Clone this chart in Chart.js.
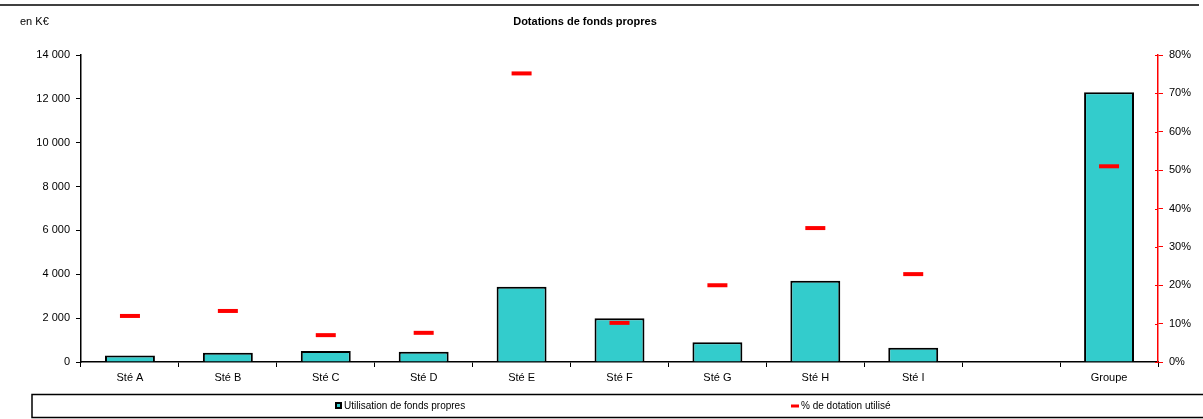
<!DOCTYPE html>
<html>
<head>
<meta charset="utf-8">
<title>Dotations de fonds propres</title>
<script src="https://cdn.jsdelivr.net/npm/chart.js@4/dist/chart.umd.min.js"></script>
<style>
  html, body { margin: 0; padding: 0; background: #fff; }
  #wrap { width: 1203px; height: 419px; position: relative; }
</style>
</head>
<body>
<div id="wrap"><canvas id="chart" width="1203" height="419"></canvas></div>
<script>
// ---- données ----
const societes = ["Sté A", "Sté B", "Sté C", "Sté D", "Sté E", "Sté F", "Sté G", "Sté H", "Sté I", "", "Groupe"];
const utilisation = [300, 420, 500, 470, 3430, 2000, 900, 3700, 650, null, 12300];   // en K€
const pctDotation = [12, 13.3, 7, 7.6, 75.2, 10.2, 20, 34.9, 22.9, null, 51];        // en %

const FONT = "'Liberation Sans', Arial, sans-serif";
const fmtK = v => String(v).replace(/\B(?=(\d{3})+(?!\d))/g, " ");

// titre, unité, trait du haut et légende encadrée
const decor = {
  id: "decor",
  afterDraw(chart) {
    const ctx = chart.ctx;
    const bars = chart.data.datasets.find(d => d.type === "bar");
    const pct = chart.data.datasets.find(d => d.type === "line");
    ctx.save();
    ctx.strokeStyle = "#000";
    ctx.lineWidth = 1.5;
    ctx.beginPath();
    ctx.moveTo(0, 5); ctx.lineTo(1199, 5);
    ctx.stroke();

    ctx.fillStyle = "#000";
    ctx.textBaseline = "middle";
    ctx.font = "11px " + FONT;
    ctx.textAlign = "left";
    ctx.fillText("en K€", 20, 22);
    ctx.font = "bold 11px " + FONT;
    ctx.textAlign = "center";
    ctx.fillText("Dotations de fonds propres", 585, 22);

    // petits traits de l'axe de droite, côté intérieur
    const y1 = chart.scales.y1;
    ctx.strokeStyle = "#ff0000";
    ctx.lineWidth = 1;
    y1.ticks.forEach(t => {
      const py = Math.round(y1.getPixelForValue(t.value)) + 0.5;
      ctx.beginPath();
      ctx.moveTo(y1.left - 3, py); ctx.lineTo(y1.left, py);
      ctx.stroke();
    });

    // cadre de légende
    ctx.strokeStyle = "#000";
    ctx.lineWidth = 1.5;
    ctx.strokeRect(32, 394.5, 1180, 23);

    ctx.font = "10px " + FONT;
    ctx.textAlign = "left";
    // barres
    ctx.fillStyle = "#000";
    ctx.fillRect(335, 402, 7, 7);
    ctx.fillStyle = bars.backgroundColor;
    ctx.fillRect(337, 404, 3, 3);
    ctx.fillStyle = "#000";
    ctx.fillText(bars.label, 344, 406);
    // pourcentage
    ctx.strokeStyle = pct.borderColor;
    ctx.lineWidth = 3;
    ctx.beginPath();
    ctx.moveTo(791, 406); ctx.lineTo(799, 406);
    ctx.stroke();
    ctx.fillText(pct.label, 801, 406);
    ctx.restore();
  }
};

new Chart(document.getElementById("chart"), {
  data: {
    labels: societes,
    datasets: [
      {
        type: "line",
        label: "% de dotation utilisé",
        data: pctDotation,
        yAxisID: "y1",
        showLine: false,
        pointStyle: "line",
        pointRadius: 10,
        pointHoverRadius: 10,
        pointBorderWidth: 4,
        borderColor: "#ff0000",
        backgroundColor: "#ff0000",
        order: 0
      },
      {
        type: "bar",
        label: "Utilisation de fonds propres",
        data: utilisation,
        yAxisID: "y",
        backgroundColor: "#33cccc",
        borderColor: "#000",
        borderWidth: 2,
        barPercentage: 0.51,
        categoryPercentage: 1,
        order: 1
      }
    ]
  },
  options: {
    responsive: false,
    animation: false,
    events: [],
    layout: { padding: { top: 55, bottom: 30, left: 0, right: 0 } },
    plugins: { legend: { display: false }, title: { display: false }, tooltip: { enabled: false } },
    scales: {
      x: {
        offset: true,
        grid: { offset: true, drawOnChartArea: false, drawTicks: true, tickLength: 5, color: "#000", lineWidth: 1 },
        border: { color: "#000", width: 1.5 },
        ticks: { color: "#000", font: { family: FONT, size: 11 }, padding: 4, maxRotation: 0, autoSkip: false },
        afterFit: s => { s.height = 27; }
      },
      y: {
        position: "left",
        min: 0, max: 14000,
        grid: { drawOnChartArea: false, drawTicks: true, tickLength: 5, color: "#000" },
        border: { color: "#000", width: 1.5 },
        ticks: { stepSize: 2000, color: "#000", font: { family: FONT, size: 11 }, padding: 6, callback: v => fmtK(v) },
        afterFit: s => { s.width = 81; }
      },
      y1: {
        position: "right",
        min: 0, max: 80,
        grid: { drawOnChartArea: false, drawTicks: true, tickLength: 5, color: "#ff0000" },
        border: { color: "#ff0000", width: 1.5 },
        ticks: { stepSize: 10, color: "#000", font: { family: FONT, size: 11 }, padding: 6, callback: v => v + "%" },
        afterFit: s => { s.width = 45; }
      }
    }
  },
  plugins: [decor]
});
</script>
</body>
</html>
